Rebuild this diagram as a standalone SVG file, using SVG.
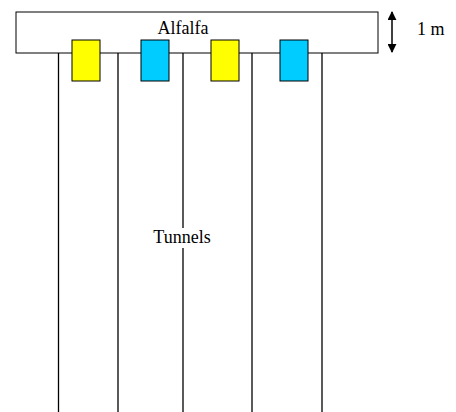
<svg xmlns="http://www.w3.org/2000/svg" width="456" height="412" viewBox="0 0 456 412">
  <style>
    .lbl { font-size: 18px; fill: #000; }
    .tunnel { stroke: #000; stroke-width: 1.3; fill: none; }
    .box { stroke: #000; stroke-width: 1; }
    .yellow { fill: #ffff00; }
    .blue { fill: #00ccff; }
  </style>
  <defs>
    <marker id="head" viewBox="0 0 10 10" refX="9" refY="5" markerWidth="9" markerHeight="9" markerUnits="userSpaceOnUse" orient="auto-start-reverse">
      <path d="M0,0 L10,5 L0,10 Z" fill="#000"/>
    </marker>
  </defs>
  <rect width="456" height="412" fill="#fff"/>

  <!-- tunnel walls running down from the strip -->
  <g id="connectors">
    <line class="tunnel" x1="58.5" y1="53" x2="58.5" y2="412"/>
    <line class="tunnel" x1="118" y1="53" x2="118" y2="412"/>
    <line class="tunnel" x1="183" y1="53" x2="183" y2="412"/>
    <line class="tunnel" x1="252" y1="53" x2="252" y2="412"/>
    <line class="tunnel" x1="322" y1="53" x2="322" y2="412"/>
    <!-- 1 m scale arrow -->
    <line x1="392" y1="12" x2="392" y2="52" stroke="#000" stroke-width="1.5" marker-start="url(#head)" marker-end="url(#head)"/>
  </g>

  <g id="alfalfa">
    <rect x="16" y="12" width="362" height="41" fill="#fff" stroke="#000" stroke-width="1"/>
    <text class="lbl" x="183" y="34" text-anchor="middle" font-family="Liberation Serif">Alfalfa</text>
  </g>

  <g id="box-yellow-1"><rect class="box yellow" x="72" y="40" width="28" height="41"/></g>
  <g id="box-blue-1"><rect class="box blue" x="141" y="40" width="28" height="41"/></g>
  <g id="box-yellow-2"><rect class="box yellow" x="211" y="40" width="28" height="41"/></g>
  <g id="box-blue-2"><rect class="box blue" x="280" y="40" width="28" height="41"/></g>

  <g id="tunnels-label">
    <rect x="151" y="228" width="62" height="20" fill="#fff"/>
    <text class="lbl" x="182" y="243" text-anchor="middle" font-family="Liberation Serif">Tunnels</text>
  </g>

  <g id="scale-label">
    <text class="lbl" x="417" y="35" font-family="Liberation Serif">1 m</text>
  </g>
</svg>
